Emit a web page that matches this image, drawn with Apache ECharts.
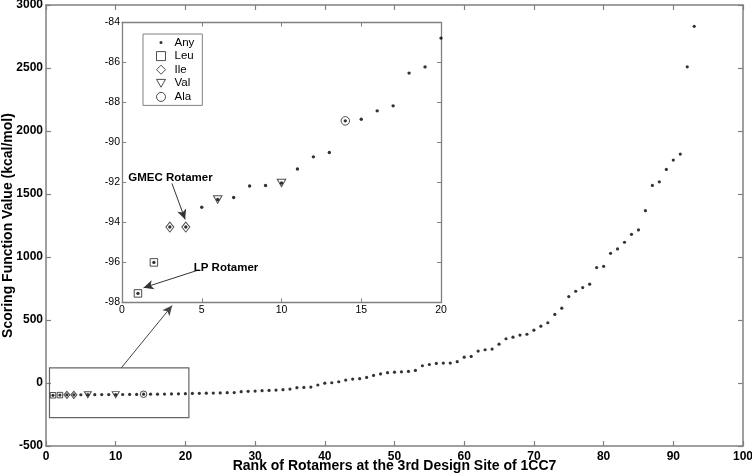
<!DOCTYPE html>
<html>
<head>
<meta charset="utf-8">
<script src="https://cdn.jsdelivr.net/npm/echarts@6/dist/echarts.min.js"></script>
<style>
  html, body { margin: 0; padding: 0; background: #fff; }
  #chart { width: 752px; height: 476px; }
</style>
</head>
<body>
<div id="chart"></div>
<script>
// ---- Data ----
const scores = [
  -97.55, -96.0, -94.23, -94.23, -93.24, -92.85, -92.75, -92.18, -92.15, -92.03,
  -91.33, -90.72, -90.5, -88.92, -88.84, -88.42, -88.17, -86.53, -86.22, -84.78,
  -83, -82, -81, -80, -79, -77, -76, -69, -66, -64,
  -61, -59, -56, -53, -48, -37, -35, -32, -16, -1,
  2, 10, 23, 31, 34, 44, 60, 72, 82, 86,
  89, 92, 100, 137, 147, 155, 158, 158, 169, 205,
  211, 253, 264, 269, 308, 351, 364, 380, 387, 419,
  451, 478, 544, 594, 686, 728, 757, 784, 916, 926,
  1029, 1064, 1117, 1180, 1215, 1368, 1568, 1597, 1695, 1769,
  1817, 2509, 2831
];
const insetCount = 20;
const leuRanks = [1, 2];
const ileRanks = [3, 4];
const valRanks = [6, 10];
const alaRanks = [14];
const legendNames = ['Any', 'Leu', 'Ile', 'Val', 'Ala'];
const xTitle = 'Rank of Rotamers at the 3rd Design Site of 1CC7';
const yTitle = 'Scoring Function Value (kcal/mol)';
const gmecLabel = 'GMEC Rotamer';
const lpLabel = 'LP Rotamer';

// ---- Build ----
const ranks = scores.map((_, i) => i + 1);
const pts = r => [r, scores[r - 1]];
const allPts = ranks.map(pts);
const insetPts = ranks.slice(0, insetCount).map(pts);

const FONT = '"Liberation Sans", Arial, sans-serif';
const AX = '#808080';
const INK = '#222';
const triDown = 'path://M0,0L10,0L5,8.66Z';
const dotIcon = 'path://M0,0M10,10M3.3,5A1.7,1.7,0,1,1,6.7,5A1.7,1.7,0,1,1,3.3,5Z';
const openStyle = { color: 'rgba(0,0,0,0)', borderColor: INK, borderWidth: 1 };
const plain = v => String(v);

function axisCommon(extra) {
  return Object.assign({
    axisLine: { show: true, onZero: false, lineStyle: { color: AX, width: 1.5 } },
    axisTick: { show: true, inside: true, length: 5, lineStyle: { color: AX, width: 1.2 } },
    splitLine: { show: false },
  }, extra);
}

const mainLabel = { color: '#000', fontFamily: FONT, fontWeight: 'bold', fontSize: 12, formatter: plain };
const insetLabel = { color: '#000', fontFamily: FONT, fontSize: 10.5, formatter: plain };
const insetLine = { show: true, onZero: false, lineStyle: { color: AX, width: 1.3 } };
const insetTick = { show: true, inside: true, length: 4, lineStyle: { color: AX } };
const titleStyle = { color: '#000', fontFamily: FONT, fontWeight: 'bold', fontSize: 14 };

const option = {
  animation: false,
  backgroundColor: '#fff',
  grid: [
    { left: 46, right: 9, top: 5, bottom: 30, show: false, outerBoundsMode: 'none', containLabel: false },
    { left: 122, right: 311, top: 22.5, bottom: 173.6, show: true, outerBoundsMode: 'none', containLabel: false,
      backgroundColor: '#fff', borderWidth: 0, z: 5 }
  ],
  xAxis: [
    axisCommon({ gridIndex: 0, type: 'value', min: 0, max: 100, interval: 10,
      axisLabel: Object.assign({ margin: 5 }, mainLabel),
      name: xTitle, nameLocation: 'middle', nameGap: 13, nameMoveOverlap: false,
      nameTextStyle: titleStyle }),
    axisCommon({ gridIndex: 0, type: 'value', min: 0, max: 100, interval: 10,
      position: 'top', axisLabel: { show: false } }),
    axisCommon({ gridIndex: 1, type: 'value', min: 0, max: 20, interval: 5, z: 6,
      axisLine: insetLine, axisTick: insetTick,
      axisLabel: Object.assign({ margin: 2 }, insetLabel) }),
    axisCommon({ gridIndex: 1, type: 'value', min: 0, max: 20, interval: 5, z: 6,
      position: 'top', axisLine: insetLine, axisTick: insetTick,
      axisLabel: { show: false } })
  ],
  yAxis: [
    axisCommon({ gridIndex: 0, type: 'value', min: -500, max: 3000, interval: 500,
      axisLabel: Object.assign({ margin: 3 }, mainLabel),
      name: yTitle, nameLocation: 'middle', nameGap: 31, nameMoveOverlap: false,
      nameTextStyle: titleStyle }),
    axisCommon({ gridIndex: 0, type: 'value', min: -500, max: 3000, interval: 500,
      position: 'right', axisLabel: { show: false } }),
    axisCommon({ gridIndex: 1, type: 'value', min: -98, max: -84, interval: 2, z: 6,
      axisLine: insetLine, axisTick: insetTick,
      axisLabel: Object.assign({ margin: 2 }, insetLabel) }),
    axisCommon({ gridIndex: 1, type: 'value', min: -98, max: -84, interval: 2, z: 6,
      position: 'right', axisLine: insetLine, axisTick: insetTick,
      axisLabel: { show: false } })
  ],
  legend: {
    show: true,
    left: 143, top: 34,
    orient: 'vertical',
    z: 20,
    backgroundColor: '#fff',
    borderColor: AX, borderWidth: 1, borderRadius: 0,
    padding: [2, 8, 2, 13],
    itemWidth: 9, itemHeight: 9, itemGap: 0.6,
    selectedMode: false,
    textStyle: { color: '#000', fontFamily: FONT, fontSize: 11.5, lineHeight: 13, padding: [0, 0, 0, 4] },
    data: [
      { name: legendNames[0], icon: dotIcon, itemStyle: { color: '#000', borderWidth: 0 } },
      { name: legendNames[1], icon: 'rect', itemStyle: openStyle },
      { name: legendNames[2], icon: 'diamond', itemStyle: openStyle },
      { name: legendNames[3], icon: triDown, itemStyle: openStyle },
      { name: legendNames[4], icon: 'circle', itemStyle: openStyle }
    ]
  },
  series: [
    // ---- main chart ----
    { type: 'scatter', name: 'main-any', xAxisIndex: 0, yAxisIndex: 0,
      data: allPts, symbol: 'circle', symbolSize: 3.2, silent: true,
      itemStyle: { color: '#000' }, z: 3,
      markArea: { silent: true,
        itemStyle: { color: 'rgba(0,0,0,0)', borderColor: '#666', borderWidth: 1.2 },
        data: [[{ coord: [0.5, 120] }, { coord: [20.5, -275] }]] },
      markLine: { silent: true, symbol: ['none', 'arrow'], symbolSize: [7, 10],
        label: { show: false },
        lineStyle: { color: '#444', width: 1, type: 'solid' },
        data: [[{ coord: [10.8, 120] }, { coord: [18.1, 615] }]] } },
    { type: 'scatter', name: 'main-leu', xAxisIndex: 0, yAxisIndex: 0,
      data: leuRanks.map(pts), symbol: 'rect', symbolSize: 5.5, itemStyle: openStyle, silent: true, z: 2 },
    { type: 'scatter', name: 'main-ile', xAxisIndex: 0, yAxisIndex: 0,
      data: ileRanks.map(pts), symbol: 'diamond', symbolSize: [6, 7], itemStyle: openStyle, silent: true, z: 2 },
    { type: 'scatter', name: 'main-val', xAxisIndex: 0, yAxisIndex: 0,
      data: valRanks.map(pts), symbol: triDown, symbolSize: [7, 6], itemStyle: openStyle, silent: true, z: 2 },
    { type: 'scatter', name: 'main-ala', xAxisIndex: 0, yAxisIndex: 0,
      data: alaRanks.map(pts), symbol: 'circle', symbolSize: 6.5, itemStyle: openStyle, silent: true, z: 2 },
    // ---- inset ----
    { type: 'scatter', name: legendNames[0], xAxisIndex: 2, yAxisIndex: 2,
      data: insetPts, symbol: 'circle', symbolSize: 3.4, silent: true,
      itemStyle: { color: '#000' }, z: 12,
      markLine: { silent: true, symbol: ['none', 'arrow'], symbolSize: [7, 10],
        label: { show: false },
        lineStyle: { color: '#333', width: 1, type: 'solid' },
        data: [
          [{ coord: [3.13, -92.05] }, { coord: [3.96, -93.85] }],
          [{ coord: [4.8, -96.38] }, { coord: [1.35, -97.27] }]
        ] },
      markPoint: { silent: true, symbol: 'circle', symbolSize: 0,
        label: { show: true, position: 'inside', color: '#000', fontFamily: FONT,
          fontWeight: 'bold', fontSize: 11.5 },
        data: [
          { coord: [3.04, -91.78], label: { formatter: gmecLabel } },
          { coord: [6.52, -96.26], label: { formatter: lpLabel } }
        ] } },
    { type: 'scatter', name: legendNames[1], xAxisIndex: 2, yAxisIndex: 2,
      data: leuRanks.map(pts), symbol: 'rect', symbolSize: 7.5, itemStyle: openStyle, silent: true, z: 11 },
    { type: 'scatter', name: legendNames[2], xAxisIndex: 2, yAxisIndex: 2,
      data: ileRanks.map(pts), symbol: 'diamond', symbolSize: [8, 10], itemStyle: openStyle, silent: true, z: 11 },
    { type: 'scatter', name: legendNames[3], xAxisIndex: 2, yAxisIndex: 2,
      data: valRanks.map(pts), symbol: triDown, symbolSize: [8.5, 7.5], itemStyle: openStyle, silent: true, z: 11 },
    { type: 'scatter', name: legendNames[4], xAxisIndex: 2, yAxisIndex: 2,
      data: alaRanks.map(pts), symbol: 'circle', symbolSize: 8.5, itemStyle: openStyle, silent: true, z: 11 }
  ]
};

const chart = echarts.init(document.getElementById('chart'), null, { renderer: 'canvas' });
chart.setOption(option);
</script>
</body>
</html>
